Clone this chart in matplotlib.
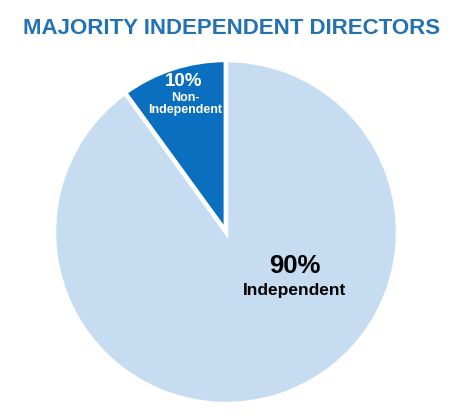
import matplotlib
matplotlib.use("Agg")
import matplotlib.pyplot as plt

plt.rcParams['font.family'] = ['Liberation Sans', 'DejaVu Sans']

# Data
categories = ['Non-\nIndependent', 'Independent']
values = [10, 90]
pct_labels = ['10%', '90%']
title = 'MAJORITY INDEPENDENT DIRECTORS'

colors = ['#0A6FBE', '#C5DCF1']

W, H = 461, 418
fig = plt.figure(figsize=(W / 100, H / 100), dpi=100)
fig.patch.set_facecolor('white')
ax = fig.add_axes([0, 0, 1, 1])

cx, cy, r = 226, H - 232, 172
wedges, _ = ax.pie(values, colors=colors, startangle=90, counterclock=True,
                   explode=[0.025, 0], center=(cx, cy), radius=r,
                   wedgeprops=dict(edgecolor='white', linewidth=3.2))

ax.set_xlim(0, W)
ax.set_ylim(0, H)
ax.set_aspect('equal')
ax.axis('off')

# Title
ax.text(232, H - 28, title, ha='center', va='center', fontsize=16,
        fontweight='bold', color='#2272B4')

# Small slice labels
ax.text(184, H - 82, pct_labels[0], ha='center', va='center', fontsize=13.5,
        fontweight='bold', color='white')
ax.text(185, H - 104, categories[0], ha='center', va='center', fontsize=9,
        fontweight='bold', color='white', linespacing=0.95)

# Large slice labels
ax.text(295, H - 266, pct_labels[1], ha='center', va='center', fontsize=18.5,
        fontweight='bold', color='black')
ax.text(295, H - 291, categories[1], ha='center', va='center', fontsize=12.5,
        fontweight='bold', color='black')

fig.savefig('out.png', dpi=100, facecolor='white')
